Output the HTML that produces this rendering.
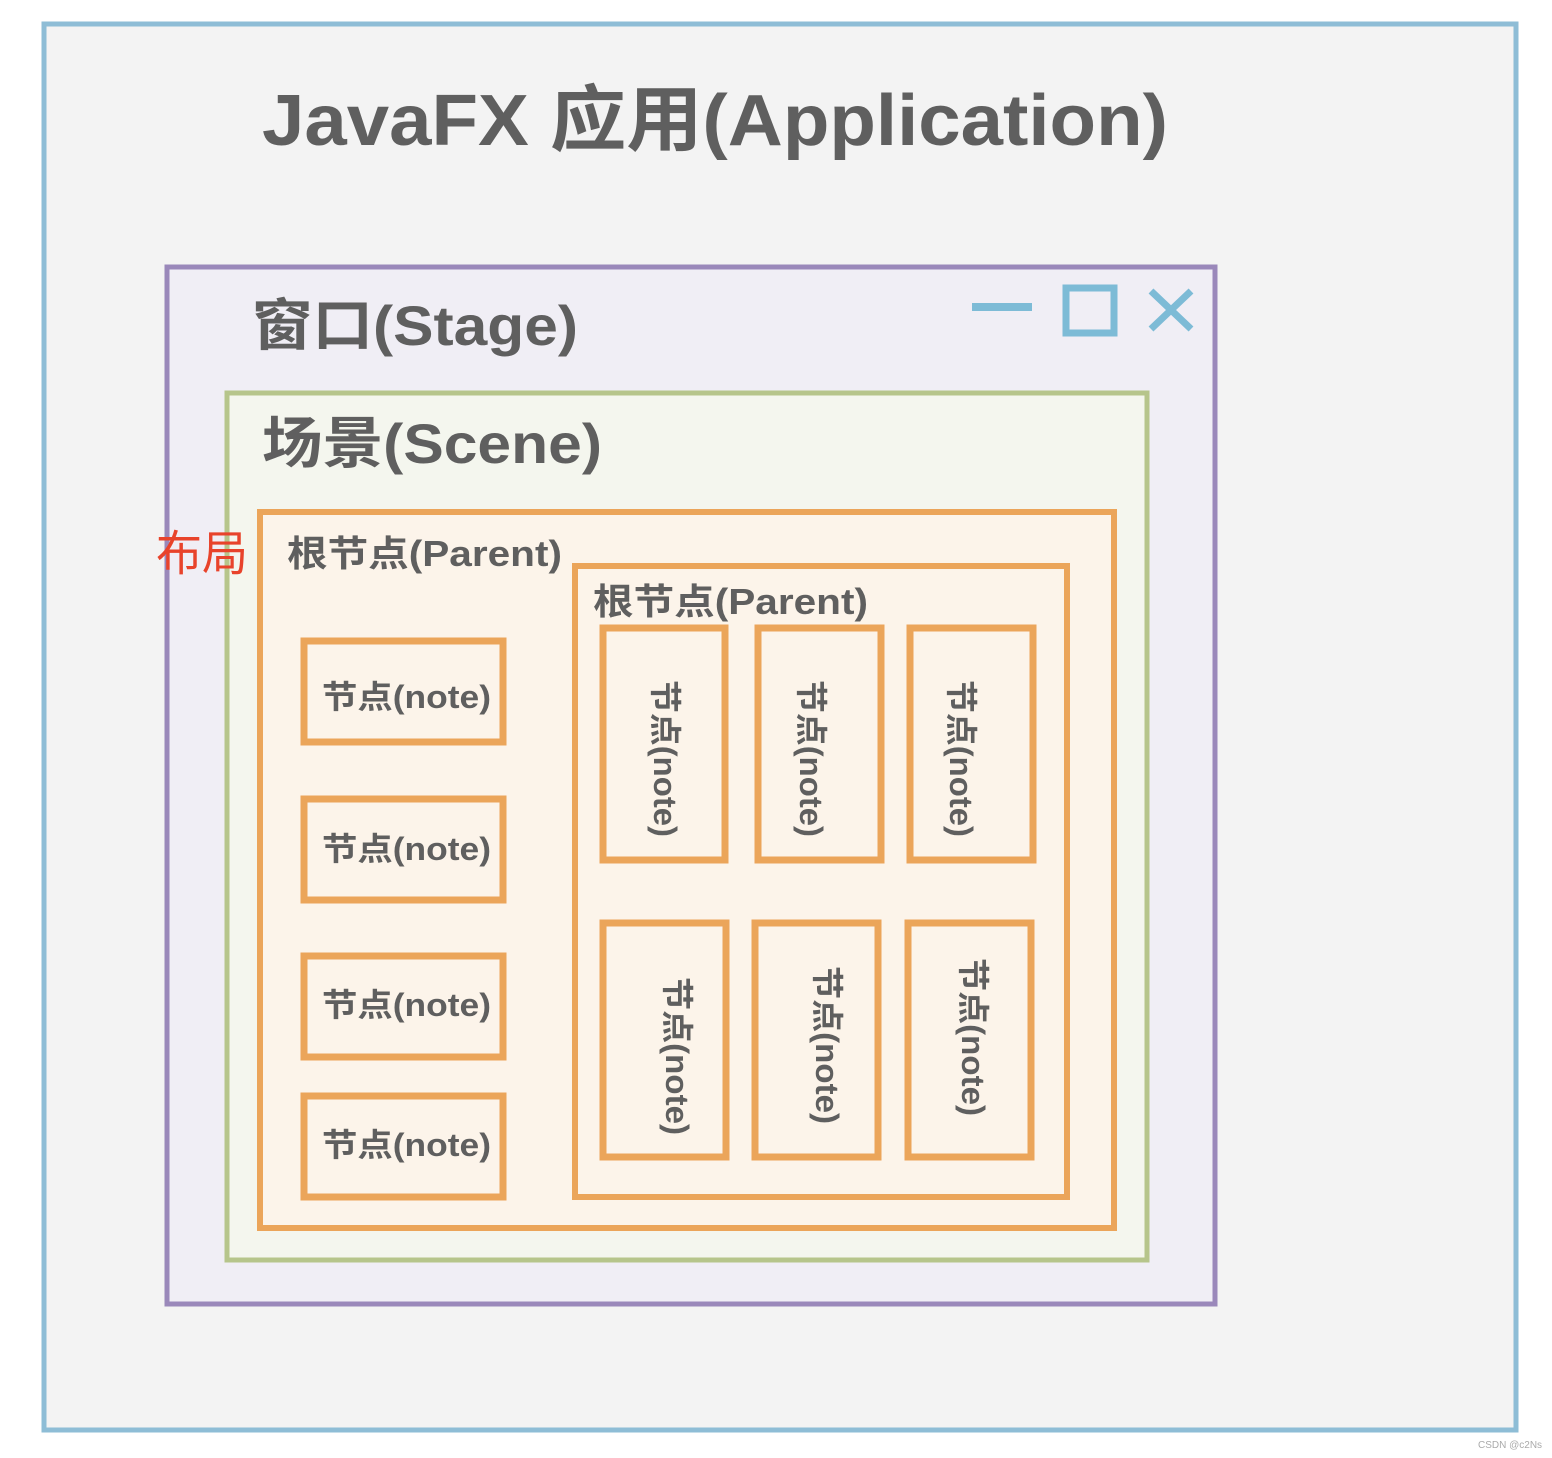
<!DOCTYPE html>
<html><head><meta charset="utf-8"><style>
html,body{margin:0;padding:0;background:#fff;}
svg{display:block}
text{font-family:"Liberation Sans","Noto Sans CJK SC",sans-serif;font-weight:bold;fill:#5f5f5f;}
</style></head><body>
<svg width="1552" height="1458" viewBox="0 0 1552 1458" xmlns="http://www.w3.org/2000/svg">
<rect x="44" y="24" width="1472" height="1406" fill="#f3f3f3" stroke="#8ebdd6" stroke-width="5"/>
<text x="262" y="145" font-size="72" textLength="906" lengthAdjust="spacingAndGlyphs">JavaFX 应用(Application)</text>

<rect x="167" y="267" width="1048" height="1037" fill="#f0eef5" stroke="#9a88ba" stroke-width="5"/>
<text x="252" y="345" font-size="56" textLength="326" lengthAdjust="spacingAndGlyphs">窗口(Stage)</text>
<rect x="972" y="303" width="60" height="8" fill="#7dbbd6"/>
<rect x="1066" y="288" width="48" height="45" fill="none" stroke="#7dbbd6" stroke-width="7"/>
<path d="M1151 291 L1191 329 M1191 291 L1151 329" stroke="#7dbbd6" stroke-width="7"/>

<rect x="227" y="393" width="920" height="867" fill="#f4f6ee" stroke="#b6c58b" stroke-width="5"/>
<text x="262" y="463" font-size="56" textLength="340" lengthAdjust="spacingAndGlyphs">场景(Scene)</text>

<rect x="260" y="512" width="854" height="716" fill="#fcf4ea" stroke="#eba55a" stroke-width="6"/>
<text x="287" y="566" font-size="36" textLength="275" lengthAdjust="spacingAndGlyphs">根节点(Parent)</text>
<text x="156" y="570" font-size="48" style="font-weight:normal;fill:#e8432b" textLength="92" lengthAdjust="spacingAndGlyphs">布局</text>

<rect x="575" y="566" width="492" height="631" fill="#fcf4ea" stroke="#eba55a" stroke-width="6"/>
<text x="593" y="614" font-size="36" textLength="275" lengthAdjust="spacingAndGlyphs">根节点(Parent)</text>

<g fill="none" stroke="#eba55a" stroke-width="7">
<rect x="304" y="641" width="199" height="101"/>
<rect x="304" y="799" width="199" height="101"/>
<rect x="304" y="956" width="199" height="101"/>
<rect x="304" y="1096" width="199" height="101"/>
<rect x="603" y="628" width="122" height="232"/>
<rect x="758" y="628" width="123" height="232"/>
<rect x="910" y="628" width="123" height="232"/>
<rect x="603" y="923" width="123" height="234"/>
<rect x="755" y="923" width="123" height="234"/>
<rect x="908" y="923" width="123" height="234"/>
</g>
<g font-size="32">
<text x="322" y="708" textLength="169" lengthAdjust="spacingAndGlyphs">节点(note)</text>
<text x="322" y="860" textLength="169" lengthAdjust="spacingAndGlyphs">节点(note)</text>
<text x="322" y="1016" textLength="169" lengthAdjust="spacingAndGlyphs">节点(note)</text>
<text x="322" y="1156" textLength="169" lengthAdjust="spacingAndGlyphs">节点(note)</text>
</g>
<g font-size="32">
<text transform="translate(654,680) rotate(90)" textLength="157" lengthAdjust="spacingAndGlyphs">节点(note)</text>
<text transform="translate(800,680) rotate(90)" textLength="157" lengthAdjust="spacingAndGlyphs">节点(note)</text>
<text transform="translate(950,680) rotate(90)" textLength="157" lengthAdjust="spacingAndGlyphs">节点(note)</text>
<text transform="translate(666,977) rotate(90)" textLength="158" lengthAdjust="spacingAndGlyphs">节点(note)</text>
<text transform="translate(816,966) rotate(90)" textLength="158" lengthAdjust="spacingAndGlyphs">节点(note)</text>
<text transform="translate(962,958) rotate(90)" textLength="158" lengthAdjust="spacingAndGlyphs">节点(note)</text>
</g>
<text x="1478" y="1448" font-size="10" style="font-weight:normal;fill:#aaa">CSDN @c2Ns</text>
</svg>
</body></html>
